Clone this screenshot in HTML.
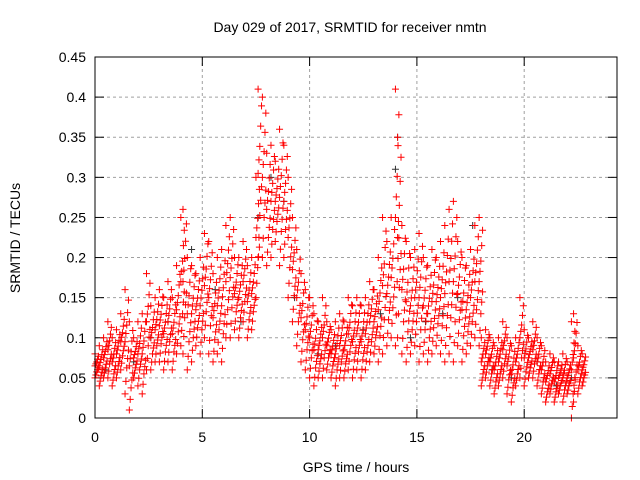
<!DOCTYPE html>
<html><head><meta charset="utf-8"><style>
body{margin:0;background:#fff}
svg{display:block;font-family:"Liberation Sans",sans-serif}
</style></head><body>
<svg id="chart" width="640" height="480">
<text x="350" y="32" text-anchor="middle" font-size="14">Day 029 of 2017, SRMTID for receiver nmtn</text>
<text x="356" y="472" text-anchor="middle" font-size="14">GPS time / hours</text>
<text transform="translate(20,238) rotate(-90)" text-anchor="middle" font-size="14">SRMTID / TECUs</text>
<g id="grid"></g><g id="ticks"></g><g id="marks"></g>
<rect x="95" y="57" width="522" height="361" fill="none" stroke="#000"/>
</svg>
<script>
const xTicks=[0,5,10,15,20];
const yTicks=[0,0.05,0.1,0.15,0.2,0.25,0.3,0.35,0.4,0.45];
const yTickLabels=["0","0.05","0.1","0.15","0.2","0.25","0.3","0.35","0.4","0.45"];
// [time, low, high]
const redBands=[
[0.0,0.05,0.08],[0.2,0.04,0.09],[0.4,0.05,0.1],[0.6,0.05,0.12],[0.8,0.04,0.1],[1.0,0.05,0.11],[1.2,0.06,0.13],[1.4,0.03,0.16],[1.6,0.01,0.12],[1.8,0.05,0.1],
[2.0,0.04,0.12],[2.2,0.03,0.13],[2.4,0.06,0.18],[2.6,0.06,0.14],[2.8,0.07,0.15],[3.0,0.07,0.16],[3.2,0.06,0.15],[3.4,0.07,0.17],[3.6,0.06,0.15],[3.8,0.08,0.19],
[4.0,0.09,0.25],[4.1,0.08,0.26],[4.3,0.06,0.2],[4.5,0.07,0.19],[4.7,0.09,0.18],[4.9,0.08,0.2],[5.1,0.1,0.23],[5.3,0.08,0.22],[5.5,0.07,0.18],[5.7,0.08,0.2],
[5.9,0.07,0.21],[6.1,0.1,0.24],[6.3,0.1,0.25],[6.5,0.11,0.2],[6.7,0.1,0.2],[6.9,0.12,0.22],[7.1,0.1,0.19],[7.3,0.11,0.2],[7.5,0.15,0.3],[7.6,0.2,0.41],
[7.8,0.2,0.4],[8.0,0.19,0.33],[8.2,0.2,0.34],[8.4,0.22,0.32],[8.6,0.19,0.36],[8.8,0.2,0.34],[9.0,0.15,0.3],[9.2,0.12,0.25],[9.4,0.09,0.21],[9.6,0.07,0.18],
[9.8,0.06,0.16],[10.0,0.05,0.15],[10.2,0.04,0.13],[10.4,0.05,0.12],[10.6,0.05,0.15],[10.8,0.06,0.12],[11.0,0.05,0.11],[11.2,0.04,0.12],[11.4,0.05,0.13],[11.6,0.05,0.12],
[11.8,0.06,0.15],[12.0,0.05,0.14],[12.2,0.06,0.15],[12.4,0.05,0.14],[12.6,0.06,0.15],[12.8,0.07,0.17],[13.0,0.08,0.16],[13.2,0.07,0.2],[13.4,0.08,0.25],[13.6,0.09,0.22],
[13.8,0.1,0.25],[14.0,0.09,0.41],[14.1,0.1,0.35],[14.3,0.08,0.24],[14.5,0.07,0.22],[14.7,0.08,0.2],[14.9,0.09,0.21],[15.1,0.07,0.23],[15.3,0.08,0.2],[15.5,0.07,0.19],
[15.7,0.08,0.21],[15.9,0.09,0.2],[16.1,0.08,0.22],[16.3,0.07,0.24],[16.5,0.08,0.26],[16.7,0.07,0.27],[16.9,0.09,0.22],[17.1,0.07,0.2],[17.3,0.08,0.19],[17.5,0.09,0.21],
[17.7,0.1,0.24],[17.9,0.09,0.25],[18.0,0.04,0.1],[18.2,0.05,0.11],[18.4,0.04,0.1],[18.6,0.03,0.09],[18.8,0.04,0.1],[19.0,0.05,0.12],[19.2,0.03,0.1],[19.4,0.02,0.09],
[19.6,0.04,0.1],[19.8,0.05,0.15],[20.0,0.04,0.11],[20.2,0.05,0.1],[20.4,0.05,0.12],[20.6,0.04,0.1],[20.8,0.03,0.09],[21.0,0.02,0.07],[21.2,0.03,0.08],[21.4,0.02,0.07],
[21.6,0.03,0.07],[21.8,0.02,0.08],[22.0,0.03,0.07],[22.2,0.0,0.12],[22.3,0.02,0.13],[22.5,0.03,0.09],[22.7,0.04,0.08]];
const blackTimes=[0.5,1.8,2.6,3.4,4.5,5.6,6.8,7.6,8.2,8.8,9.3,10.4,11.2,12.5,13.3,14.0,14.1,14.7,15.4,16.2,16.9,17.6,18.5,19.4,20.6,21.5,22.2];
const blackValues=[0.06,0.07,0.1,0.12,0.21,0.16,0.12,0.25,0.3,0.27,0.15,0.08,0.09,0.11,0.13,0.31,0.35,0.1,0.12,0.13,0.15,0.24,0.06,0.05,0.07,0.04,0.05];
const X=t=>95+t*(107.3/5), Y=v=>418-v*(361/0.45);
const NS="http://www.w3.org/2000/svg";
function mk(tag,attrs,parent){const e=document.createElementNS(NS,tag);for(const k in attrs)e.setAttribute(k,attrs[k]);parent.appendChild(e);return e;}
const grid=document.getElementById('grid'),ticks=document.getElementById('ticks'),marks=document.getElementById('marks');
yTicks.forEach((v,i)=>{const y=Y(v);
 if(i>0&&i<yTicks.length-1){const g=mk('line',{x1:95,x2:617,y1:y,y2:y,stroke:'#a0a0a0','stroke-dasharray':'3,3'},grid);}
 mk('line',{x1:95,x2:104,y1:y,y2:y,stroke:'#000'},ticks);mk('line',{x1:608,x2:617,y1:y,y2:y,stroke:'#000'},ticks);
 const t=mk('text',{x:86,y:y+5,'text-anchor':'end','font-size':14},ticks);t.textContent=yTickLabels[i];
 });
xTicks.forEach(v=>{const x=X(v);
 if(v>0){const g=mk('line',{x1:x,x2:x,y1:57,y2:418,stroke:'#a0a0a0','stroke-dasharray':'3,3'},grid);}
 mk('line',{x1:x,x2:x,y1:418,y2:409,stroke:'#000'},ticks);mk('line',{x1:x,x2:x,y1:57,y2:66,stroke:'#000'},ticks);
 const t=mk('text',{x:x,y:442,'text-anchor':'middle','font-size':14},ticks);t.textContent=String(v);
 });
function cross(t,v,col,name){const x=X(t),y=Y(v);
 const p=mk('path',{d:`M${x-3.5} ${y}h7M${x} ${y-3.5}v7`,stroke:col,'stroke-width':1,fill:'none'},marks);
 }
blackTimes.forEach((t,i)=>cross(t,blackValues[i],'#333','black-point'));
redBands.forEach(b=>{const t=b[0],lo=b[1],hi=b[2];
 [0,0.12,0.25,0.34,0.42,0.5,0.58,0.66,0.78,0.9,1].forEach((f,j)=>{
  cross(t+(j%5)*0.04,lo+(hi-lo)*f,'#ff0000','red-point');});});
</script>
</body></html>
